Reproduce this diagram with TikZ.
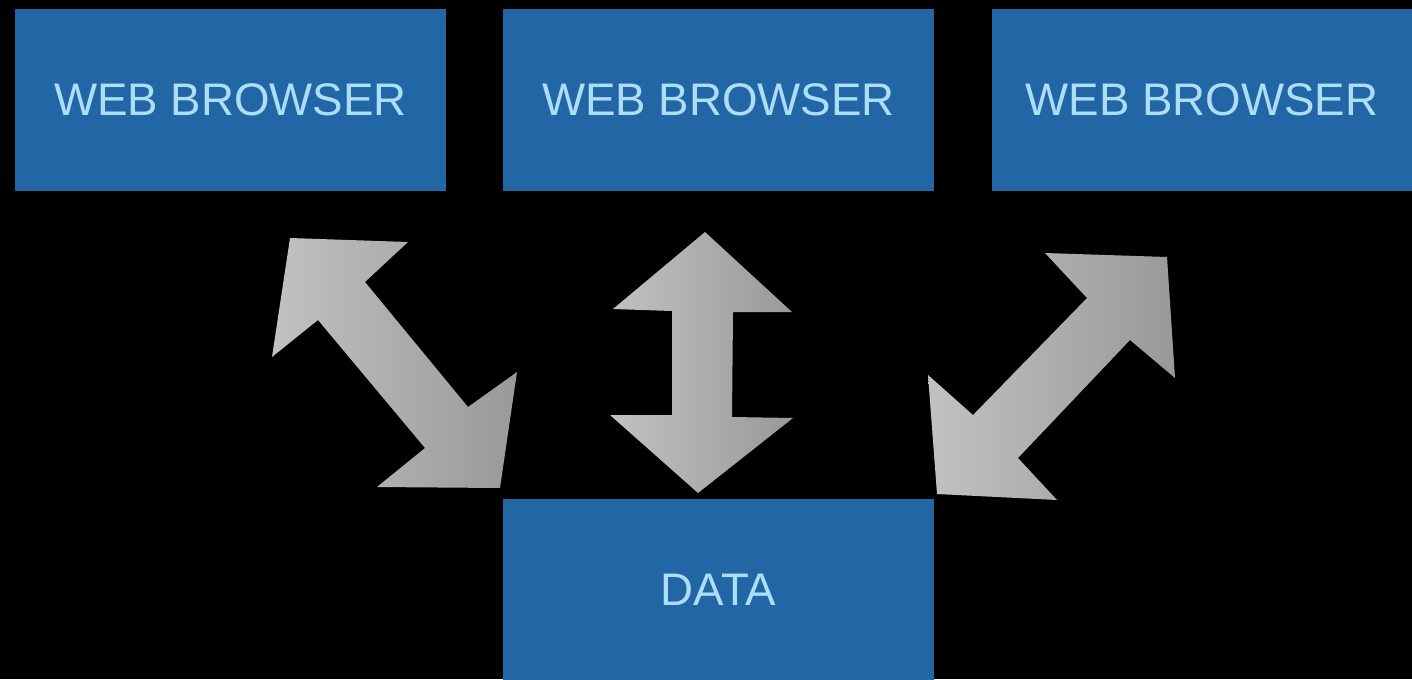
\documentclass[tikz,border=0pt]{standalone}
\usepackage{fontspec}
\setsansfont{Liberation Sans}
\definecolor{boxblue}{RGB}{34,102,166}
\definecolor{textblue}{RGB}{172,222,248}

\tikzset{
	box/.style={fill=boxblue, inner sep=0pt, minimum width=8.62cm, minimum height=3.64cm, text=textblue, font=\sffamily\fontsize{26}{30}\selectfont},
	fatarrow/.style={draw=none, left color=black!24, right color=black!40}
}

\begin{document}
\begin{tikzpicture}[x=0.02cm, y=-0.02cm]
			%%%%% START %%%%%
			
			\fill[black] (0, 0) rectangle (1412, 679);
			\useasboundingbox (0, 0) rectangle (1412, 679);
			
			\node[box] (browserA) at (230.5, 100) {WEB BROWSER};
			\node[box] (browserB) at (718.5, 100) {WEB BROWSER};
			\node[box, minimum width=8.4cm] (browserC) at (1202, 100) {WEB BROWSER};
			\node[box] (data) at (718.5, 590) {DATA};
			
			\shade[fatarrow] (290, 238) -- (408, 242) -- (365, 282) -- (468, 407) -- (517, 372) -- (500, 488) -- (377, 487) -- (425, 448) -- (318, 320) -- (272, 357) -- cycle;
			
			\shade[fatarrow] (705, 232) -- (792, 312) -- (733, 312) -- (732, 417) -- (793, 418) -- (698, 493) -- (610, 415) -- (672, 415) -- (672, 311) -- (613, 309) -- cycle;
			
			\shade[fatarrow] (1167, 257) -- (1175, 378) -- (1130, 340) -- (1018, 458) -- (1057, 500) -- (937, 494) -- (928, 375) -- (973, 415) -- (1087, 298) -- (1045, 253) -- cycle;
			
			%%%%% END %%%%%
		\end{tikzpicture}
\end{document}
